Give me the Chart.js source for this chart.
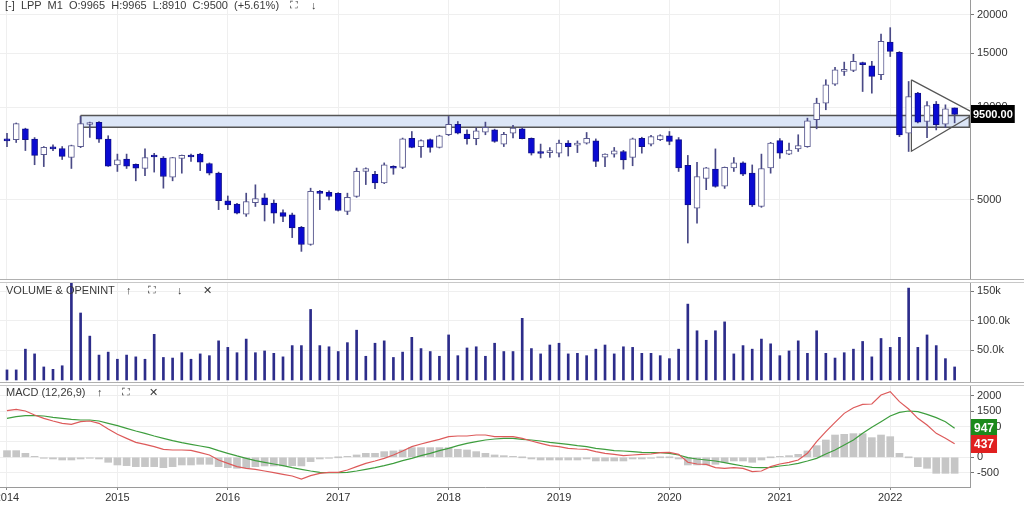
<!DOCTYPE html>
<html>
<head>
<meta charset="utf-8">
<title>LPP M1</title>
<script src="https://cdn.jsdelivr.net/npm/chart.js@4.4.1/dist/chart.umd.min.js"></script>
<style>
    body { margin: 0; width: 1024px; height: 505px; position: relative; overflow: hidden; background: #fff; font-family: "Liberation Sans", Arial, sans-serif; }
    .panel { position: absolute; left: 0; width: 1024px; }
    .panel canvas { display: block; }
    .hdr { position: absolute; font-size: 11px; color: #3a3a3a; white-space: pre; z-index: 2; }
    .sep { position: absolute; left: 0; width: 1024px; height: 1px; background: #b0b0b0; }
</style>
</head>
<body>
<div class="panel" style="top:0;height:279px"><canvas id="priceChart" width="1024" height="279"></canvas></div>
<div class="sep" style="top:279px"></div>
<div class="sep" style="top:282px;background:#c8c8c8"></div>
<div class="panel" style="top:283px;height:99px"><canvas id="volumeChart" width="1024" height="99"></canvas></div>
<div class="sep" style="top:382px"></div>
<div class="sep" style="top:385px;background:#c8c8c8"></div>
<div class="panel" style="top:386px;height:119px"><canvas id="macdChart" width="1024" height="119"></canvas></div>

<div class="hdr" id="priceHdr" style="left:5px;top:-1px"></div>
<div class="hdr" style="left:290px;top:-1px">⛶</div>
<div class="hdr" style="left:311px;top:-1px">↓</div>
<div class="hdr" style="left:6px;top:284px">VOLUME &amp; OPENINT</div>
<div class="hdr" style="left:126px;top:284px">↑</div>
<div class="hdr" style="left:148px;top:284px">⛶</div>
<div class="hdr" style="left:177px;top:284px">↓</div>
<div class="hdr" style="left:203px;top:284px">✕</div>
<div class="hdr" style="left:6px;top:386px">MACD (12,26,9)</div>
<div class="hdr" style="left:97px;top:386px">↑</div>
<div class="hdr" style="left:122px;top:386px">⛶</div>
<div class="hdr" style="left:149px;top:386px">✕</div>

<script>
    // monthly candles, Jan 2014 .. Aug 2022 (x = month index)
    var symbolName = 'LPP';
    var periodName = 'M1';
    var lastChange = '+5.61%';
    var yearTicks = [0, 12, 24, 36, 48, 60, 72, 84, 96];
    var yearLabels = ['2014', '2015', '2016', '2017', '2018', '2019', '2020', '2021', '2022'];

    var openPrices = [
        7820, 7860, 8520, 7890, 7020, 7380, 7350, 6870, 7460, 8800,
        8940, 7890, 6500, 6790, 6530, 6330, 6990, 6840, 5930, 6820,
        6960, 7050, 6570, 6110, 4970, 4850, 4490, 4900, 5080, 4880,
        4550, 4470, 4070, 3580, 5330, 5290, 5250, 4590, 5130, 6190,
        6060, 5680, 6420, 6380, 7940, 7460, 7860, 7410, 8150, 8820,
        8190, 7910, 8310, 8460, 7600, 8240, 8520, 7940, 7120, 7130,
        7100, 7650, 7540, 7650, 7780, 6890, 7050, 7190, 6870, 7940,
        7600, 7860, 8090, 7860, 6480, 4700, 5870, 6300, 5540, 6360,
        6600, 6110, 4760, 6360, 7800, 7050, 7330, 7460, 9120, 10330,
        11910, 13100, 13200, 14000, 13660, 12780, 16330, 15130, 8240, 11130,
        9000, 10250, 8820, 9965
    ];
    var highPrices = [
        8230, 8900, 8560, 7980, 7460, 7560, 7460, 7540, 9350, 8960,
        9000, 8090, 7050, 7050, 6550, 7330, 7090, 6920, 6880, 7000,
        7050, 7090, 6600, 6160, 5150, 4870, 5260, 5600, 5240, 5000,
        4640, 4530, 4100, 5460, 5370, 5350, 5280, 5260, 6350, 6360,
        6190, 6600, 6460, 7950, 8350, 7850, 7900, 8120, 9350, 9000,
        8460, 8580, 8960, 8500, 8300, 8750, 8600, 7960, 7600, 7400,
        7830, 7800, 7780, 8290, 7900, 7060, 7410, 7250, 7950, 8000,
        8120, 8150, 8350, 7980, 6980, 6630, 6380, 7330, 6400, 6870,
        6650, 6500, 7050, 7700, 7920, 7650, 8150, 9230, 10720, 12310,
        13500, 14050, 14900, 14050, 14120, 17340, 18190, 15200, 12150, 11200,
        10460, 10460, 10200, 9965
    ];
    var lowPrices = [
        7450, 7690, 7240, 6510, 6420, 7240, 6770, 6330, 7400, 7990,
        7690, 6430, 6190, 6330, 5770, 6000, 6160, 5460, 5770, 6110,
        6670, 6230, 6030, 4650, 4650, 4500, 4420, 4760, 4270, 4200,
        4250, 3770, 3400, 3560, 4650, 5000, 4600, 4480, 5100, 5610,
        5440, 5650, 6060, 6320, 7390, 6870, 7150, 7380, 8100, 8200,
        7600, 7560, 8150, 7700, 7460, 7960, 7900, 7000, 6850, 6880,
        6900, 6950, 7130, 7600, 6420, 6420, 6890, 6300, 6460, 7100,
        7500, 7800, 7560, 6190, 3620, 4200, 5400, 5500, 5450, 6190,
        6000, 4760, 4730, 6110, 6830, 7020, 7190, 7420, 8520, 9830,
        11800, 12710, 13080, 11270, 11130, 12310, 14650, 8040, 7190, 8900,
        7980, 8450, 8600, 8910
    ];
    var closePrices = [
        7780, 8860, 7860, 6980, 7410, 7330, 6930, 7520, 8870, 8920,
        7890, 6440, 6750, 6440, 6340, 6870, 6900, 5960, 6870, 6980,
        6900, 6630, 6110, 4970, 4820, 4530, 4940, 5050, 4820, 4530,
        4420, 4050, 3580, 5330, 5250, 5130, 4620, 5100, 6190, 6330,
        5680, 6500, 6340, 7910, 7410, 7800, 7410, 8090, 8820, 8240,
        7910, 8400, 8610, 7750, 8180, 8560, 7920, 7100, 7080, 7170,
        7650, 7460, 7570, 7940, 6670, 7050, 7220, 6750, 7910, 7460,
        8040, 8100, 7750, 6360, 4820, 5960, 6360, 5530, 6380, 6600,
        6060, 4820, 6330, 7650, 7100, 7270, 7520, 9050, 10330, 11860,
        13260, 13250, 14120, 13770, 12620, 16410, 15220, 8140, 10860, 8960,
        10150, 8790, 9900, 9500
    ];
    var volumes = [
        17000, 17000, 52000, 44000, 22000, 18000, 24000, 165000, 113000, 74000,
        42000, 47000, 35000, 42000, 39000, 35000, 77000, 38000, 37000, 46000,
        35000, 44000, 41000, 66000, 55000, 46000, 69000, 46000, 49000, 45000,
        39000, 58000, 58000, 119000, 58000, 56000, 48000, 63000, 84000, 40000,
        62000, 66000, 38000, 47000, 72000, 53000, 48000, 40000, 76000, 41000,
        54000, 56000, 40000, 62000, 48000, 48000, 104000, 53000, 44000, 59000,
        62000, 44000, 45000, 41000, 52000, 59000, 44000, 56000, 55000, 45000,
        45000, 41000, 36000, 52000, 128000, 83000, 67000, 83000, 98000, 44000,
        58000, 52000, 69000, 61000, 41000, 49000, 66000, 45000, 83000, 45000,
        37000, 46000, 52000, 65000, 39000, 70000, 55000, 72000, 155000, 55000,
        76000, 58000, 36000, 22000
    ];
    var macdLine = [
        1514, 1557, 1503, 1373, 1265, 1178, 1103, 1070, 1157, 1178,
        1103, 919, 746, 616, 486, 421, 345, 259, 237, 237,
        226, 151, 75, -88, -196, -304, -358, -390, -445, -499,
        -553, -607, -704, -596, -520, -488, -488, -412, -304, -196,
        -120, -33, 75, 205, 345, 432, 508, 583, 670, 692,
        692, 724, 724, 670, 670, 670, 616, 529, 454, 378,
        345, 291, 270, 259, 183, 129, 97, 53, 75, 97,
        107, 151, 161, 97, -162, -217, -228, -336, -358, -336,
        -358, -466, -445, -304, -217, -163, -88, 129, 508, 832,
        1135, 1427, 1611, 1719, 1730, 2022, 2131, 1806, 1568, 1265,
        1049, 778, 616, 437
    ];
    var signalLine = [
        1265, 1319, 1352, 1352, 1341, 1297, 1265, 1233, 1211, 1211,
        1178, 1103, 1027, 940, 854, 778, 692, 616, 540, 475,
        421, 367, 313, 216, 130, 44, -33, -109, -163, -217,
        -271, -336, -390, -445, -488, -499, -499, -488, -445, -390,
        -336, -271, -196, -109, -33, 54, 130, 216, 291, 378,
        454, 508, 562, 594, 616, 616, 583, 562, 529, 486,
        454, 421, 378, 345, 291, 259, 216, 205, 183, 161,
        151, 151, 129, 75, -12, -55, -88, -120, -174, -228,
        -282, -325, -336, -325, -282, -250, -196, -120, -33, 107,
        237, 400, 562, 778, 973, 1157, 1341, 1460, 1503, 1481,
        1395, 1287, 1157, 947
    ];
    var macdHist = [
        216, 216, 130, 22, -20, -54, -87, -87, -54, -32,
        -54, -162, -249, -270, -303, -303, -303, -336, -303, -249,
        -249, -227, -227, -303, -336, -357, -336, -303, -281, -281,
        -281, -270, -281, -140, -54, -32, 0, 22, 76, 130,
        130, 184, 206, 238, 314, 314, 314, 314, 314, 260,
        238, 184, 130, 76, 54, 22, 0, -54, -87, -87,
        -87, -87, -87, -54, -119, -119, -119, -119, -54, -54,
        -32, 0, 0, -54, -249, -249, -249, -227, -162, -119,
        -119, -162, -87, 0, 22, 54, 97, 206, 378, 562,
        724, 746, 768, 768, 638, 724, 670, 130, 0, -303,
        -357, -520, -520, -520
    ];

    var priceTicks = [5000, 10000, 15000, 20000];
    var volumeTicks = [50000, 100000, 150000];
    var volumeTickLabels = ['50.0k', '100.0k', '150k'];
    var macdTicks = [-500, 0, 500, 1000, 1500, 2000];

    // drawn objects, in month index / price
    var zoneX = [8, 104.6];
    var zoneHigh = 9420;
    var zoneLow = 8620;
    var triangleX = [98.3, 105.2, 98.3, 98.3];
    var triangleY = [12300, 9550, 7200, 12300];

    var xMin = -0.76;
    var xMax = 104.67;
    var axisWidth = 54;
    var last = closePrices.length - 1;

    document.getElementById('priceHdr').textContent =
        '[-]  ' + symbolName + '  ' + periodName + '  O:' + openPrices[last] + '  H:' + highPrices[last] +
        '  L:' + lowPrices[last] + '  C:' + closePrices[last] + '  (' + lastChange + ')';

    var valueTags = {
        id: 'valueTags',
        afterDraw: function (chart, args, opts) {
            var ctx = chart.ctx;
            var scale = chart.scales.y;
            (opts.tags || []).forEach(function (t) {
                var y = scale.getPixelForValue(t.value);
                ctx.save();
                ctx.font = t.font;
                var w = ctx.measureText(t.text).width + t.pad * 2;
                ctx.fillStyle = t.bg;
                ctx.fillRect(chart.chartArea.right + 1, Math.round(y - t.h / 2), w, t.h);
                ctx.fillStyle = '#fff';
                ctx.textBaseline = 'middle';
                ctx.fillText(t.text, chart.chartArea.right + 1 + t.pad, y + 0.5);
                ctx.restore();
            });
        }
    };

    function xAxis(showLabels) {
        return {
            type: 'linear',
            min: xMin,
            max: xMax,
            offset: false,
            afterBuildTicks: function (s) {
                s.ticks = yearTicks.map(function (v) { return { value: v }; });
            },
            afterFit: function (s) {
                s.height = showLabels ? 18 : 0;
                s.paddingLeft = 0;
                s.paddingRight = 0;
            },
            grid: { offset: false, color: '#efefef', drawTicks: showLabels, tickLength: 3, tickColor: '#888' },
            border: { display: showLabels, color: '#9a9a9a' },
            ticks: {
                display: showLabels,
                autoSkip: false,
                maxRotation: 0,
                padding: 1,
                color: '#333',
                font: { size: 11, family: '"Liberation Sans", Arial' },
                callback: function (v) {
                    var i = yearTicks.indexOf(v);
                    return i >= 0 ? yearLabels[i] : '';
                }
            }
        };
    }

    function yAxis(type, min, max, ticks, labelFn) {
        return {
            type: type,
            position: 'right',
            min: min,
            max: max,
            afterFit: function (s) {
                s.width = axisWidth;
                s.paddingTop = 0;
                s.paddingBottom = 0;
            },
            afterBuildTicks: function (s) {
                s.ticks = ticks.map(function (v) { return { value: v }; });
            },
            grid: { color: '#efefef', tickLength: 4, tickColor: '#777' },
            border: { display: true, color: '#9a9a9a' },
            ticks: {
                padding: 3,
                color: '#333',
                font: { size: 11, family: '"Liberation Sans", Arial' },
                callback: labelFn
            }
        };
    }

    var baseOptions = function (scales, tags) {
        return {
            responsive: false,
            animation: false,
            events: [],
            layout: { padding: 0 },
            scales: scales,
            plugins: {
                legend: { display: false },
                tooltip: { enabled: false },
                valueTags: { tags: tags }
            }
        };
    };

    function getPriceChart() {
        var bodies = [];
        var wicks = [];
        var bodyColors = [];
        var bodyBorders = [];
        for (var i = 0; i < closePrices.length; i++) {
            bodies.push({ x: i, y: [openPrices[i], closePrices[i]] });
            wicks.push({ x: i, y: [lowPrices[i], highPrices[i]] });
            var down = closePrices[i] < openPrices[i];
            bodyColors.push(down ? '#0a0ad2' : '#ffffff');
            bodyBorders.push(down ? '#10108a' : '#5a5a90');
        }

        var datasets = [
            {
                type: 'bar', data: bodies, order: 0, grouped: false,
                barThickness: 6, minBarLength: 2, borderWidth: 1, borderSkipped: false,
                backgroundColor: bodyColors, borderColor: bodyBorders
            },
            {
                type: 'bar', data: wicks, order: 1, grouped: false,
                barThickness: 1, borderWidth: 0, backgroundColor: '#4a4a86'
            },
            {
                type: 'line', order: 2, pointRadius: 0, borderWidth: 1.2, borderColor: '#555', fill: false,
                data: triangleX.map(function (x, k) { return { x: x, y: triangleY[k] }; })
            },
            {
                type: 'line', order: 3, pointRadius: 0, borderWidth: 1.5, borderColor: '#555', fill: false,
                data: [
                    { x: zoneX[0], y: zoneHigh }, { x: zoneX[1], y: zoneHigh },
                    { x: zoneX[1], y: zoneLow }, { x: zoneX[0], y: zoneLow }, { x: zoneX[0], y: zoneHigh }
                ]
            },
            {
                type: 'line', order: 4, pointRadius: 0, borderWidth: 0, fill: '+1', backgroundColor: '#dce6f7',
                data: [{ x: zoneX[0], y: zoneHigh }, { x: zoneX[1], y: zoneHigh }]
            },
            {
                type: 'line', order: 5, pointRadius: 0, borderWidth: 0, fill: false,
                data: [{ x: zoneX[0], y: zoneLow }, { x: zoneX[1], y: zoneLow }]
            }
        ];

        var tags = [{
            value: closePrices[last], text: closePrices[last].toFixed(2), bg: '#000',
            font: 'bold 11px "Liberation Sans", Arial', pad: 2, h: 18
        }];

        new Chart(document.getElementById('priceChart'), {
            type: 'bar',
            data: { datasets: datasets },
            options: baseOptions({
                x: xAxis(false),
                y: yAxis('logarithmic', 2764, 22380, priceTicks, function (v) { return String(v); })
            }, tags),
            plugins: [valueTags]
        });
    }

    function getVolumeChart() {
        var data = volumes.map(function (v, i) { return { x: i, y: v }; });
        new Chart(document.getElementById('volumeChart'), {
            type: 'bar',
            data: {
                datasets: [{
                    data: data, grouped: false, barThickness: 2, borderWidth: 0, backgroundColor: '#2c2c8a'
                }]
            },
            options: baseOptions({
                x: xAxis(false),
                y: yAxis('linear', -3400, 163600, volumeTicks, function (v) {
                    var i = volumeTicks.indexOf(v);
                    return i >= 0 ? volumeTickLabels[i] : '';
                })
            }, []),
            plugins: [valueTags]
        });
    }

    function getMacdChart() {
        var hist = macdHist.map(function (v, i) { return { x: i, y: v }; });
        var macd = macdLine.map(function (v, i) { return { x: i, y: v }; });
        var signal = signalLine.map(function (v, i) { return { x: i, y: v }; });
        var tags = [
            { value: signalLine[last], text: String(signalLine[last]), bg: '#1c8a1c', font: 'bold 12px "Liberation Sans", Arial', pad: 3, h: 18 },
            { value: macdLine[last], text: String(macdLine[last]), bg: '#e02020', font: 'bold 12px "Liberation Sans", Arial', pad: 3, h: 18 }
        ];
        new Chart(document.getElementById('macdChart'), {
            type: 'bar',
            data: {
                datasets: [
                    { type: 'line', data: macd, order: 0, pointRadius: 0, borderWidth: 1.2, borderColor: '#dd5a5a', fill: false },
                    { type: 'line', data: signal, order: 1, pointRadius: 0, borderWidth: 1.2, borderColor: '#3e9e3e', fill: false },
                    { type: 'bar', data: hist, order: 2, grouped: false, barThickness: 7, minBarLength: 1, borderWidth: 0, backgroundColor: '#c6c6c6' }
                ]
            },
            options: baseOptions({
                x: xAxis(true),
                y: yAxis('linear', -964, 2315, macdTicks, function (v) { return String(v); })
            }, tags),
            plugins: [valueTags]
        });
    }

    getPriceChart();
    getVolumeChart();
    getMacdChart();
</script>
</body>
</html>
